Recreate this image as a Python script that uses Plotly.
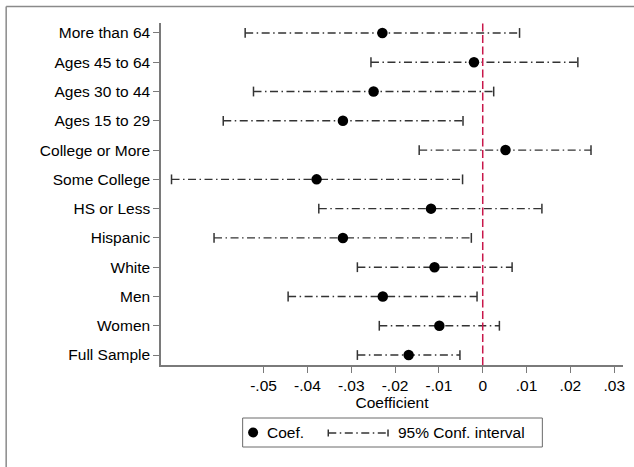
import plotly.graph_objects as go

# ---- data (bottom to top) ----
groups = ["Full Sample", "Women", "Men", "White", "Hispanic", "HS or Less",
          "Some College", "College or More", "Ages 15 to 29", "Ages 30 to 44",
          "Ages 45 to 64", "More than 64"]
coef = [-0.0169, -0.0099, -0.0228, -0.0110, -0.0319, -0.0118,
        -0.0379, 0.0052, -0.0319, -0.0249, -0.0020, -0.0229]
ci_low = [-0.0286, -0.0236, -0.0444, -0.0286, -0.0613, -0.0374,
          -0.0710, -0.0145, -0.0592, -0.0523, -0.0255, -0.0542]
ci_high = [-0.0052, 0.0038, -0.0013, 0.0067, -0.0026, 0.0135,
           -0.0046, 0.0247, -0.0045, 0.0025, 0.0217, 0.0084]
xtick_vals = [-0.05, -0.04, -0.03, -0.02, -0.01, 0, 0.01, 0.02, 0.03]
xtick_text = ["-.05", "-.04", "-.03", "-.02", "-.01", "0", ".01", ".02", ".03"]

# ---- layout geometry (pixels) ----
W, H = 634, 467
L, R, T, B = 161, 625, 23, 365
FONT = "Liberation Sans, Arial, sans-serif"
FS = 15.5
DASH = "8px,3.5px,1.5px,3.5px"
CI_COLOR = "#333333"
AX_COLOR = "#7a7a7a"

def px(x):
    return (x - L) / (R - L)

def py(y):
    return (B - y) / (B - T)

ypos = list(range(len(groups)))

fig = go.Figure()

# CI lines
xs, ys = [], []
for i in ypos:
    xs += [ci_low[i], ci_high[i], None]
    ys += [i, i, None]
fig.add_trace(go.Scatter(x=xs, y=ys, mode="lines",
                         line=dict(color=CI_COLOR, width=1.4, dash=DASH),
                         hoverinfo="skip", showlegend=False))
# caps
fig.add_trace(go.Scatter(x=ci_low + ci_high, y=ypos + ypos, mode="markers",
                         marker=dict(symbol="line-ns", size=7,
                                     line=dict(color=CI_COLOR, width=1.5)),
                         hoverinfo="skip", showlegend=False))
# coefficients
fig.add_trace(go.Scatter(x=coef, y=ypos, mode="markers",
                         marker=dict(color="black", size=10.5),
                         showlegend=False))

shapes = []
# zero reference line
shapes.append(dict(type="line", xref="x", yref="paper", x0=0, x1=0, y0=0, y1=1,
                   line=dict(color="#c8174a", width=1.5, dash="8px,3.5px")))
# outer frame (top and left)
shapes.append(dict(type="line", xref="paper", yref="paper",
                   x0=px(5.5), x1=px(W + 5), y0=py(6.5), y1=py(6.5),
                   line=dict(color="#8a8a8a", width=1.5)))
shapes.append(dict(type="line", xref="paper", yref="paper",
                   x0=px(5.5), x1=px(5.5), y0=py(6.5), y1=py(H + 5),
                   line=dict(color="#8a8a8a", width=1.5)))
# legend box
shapes.append(dict(type="rect", xref="paper", yref="paper",
                   x0=px(243), x1=px(544), y0=py(418), y1=py(447),
                   line=dict(color="#6a6a6a", width=1), fillcolor="white"))
# legend dot
shapes.append(dict(type="circle", xref="paper", yref="paper",
                   x0=px(248.5), x1=px(258.5), y0=py(427.5), y1=py(437.5),
                   line=dict(color="black", width=0), fillcolor="black"))
# legend CI symbol
shapes.append(dict(type="line", xref="paper", yref="paper",
                   x0=px(329), x1=px(389), y0=py(433), y1=py(433),
                   line=dict(color=CI_COLOR, width=1.4, dash=DASH)))
for xc in (329, 389):
    shapes.append(dict(type="line", xref="paper", yref="paper",
                       x0=px(xc), x1=px(xc), y0=py(429.5), y1=py(436.5),
                       line=dict(color=CI_COLOR, width=1.5)))

annotations = [
    dict(text="Coef.", xref="paper", yref="paper", x=px(265), y=py(433),
         xanchor="left", yanchor="middle", showarrow=False,
         font=dict(family=FONT, size=FS, color="black")),
    dict(text="95% Conf. interval", xref="paper", yref="paper", x=px(397), y=py(433),
         xanchor="left", yanchor="middle", showarrow=False,
         font=dict(family=FONT, size=FS, color="black")),
]

fig.update_layout(
    width=W, height=H,
    margin=dict(l=L, r=W - R, t=T, b=H - B, pad=0),
    paper_bgcolor="white", plot_bgcolor="white",
    font=dict(family=FONT, size=FS, color="black"),
    shapes=shapes, annotations=annotations,
    showlegend=False,
)
fig.update_xaxes(range=[-0.0734, 0.032], tickvals=xtick_vals, ticktext=xtick_text,
                 showgrid=False, zeroline=False, showline=True, linecolor=AX_COLOR,
                 linewidth=1.5, ticks="outside", ticklen=6, tickcolor=AX_COLOR,
                 tickwidth=1.2, title=dict(text="Coefficient", standoff=0,
                                           font=dict(size=FS)))
fig.update_yaxes(range=[-0.34, 11.34], tickvals=ypos, ticktext=groups,
                 showgrid=False, zeroline=False, showline=True, linecolor=AX_COLOR,
                 linewidth=1.5, ticks="outside", ticklen=6, tickcolor=AX_COLOR,
                 tickwidth=1.2)

fig.write_html("out.html")
